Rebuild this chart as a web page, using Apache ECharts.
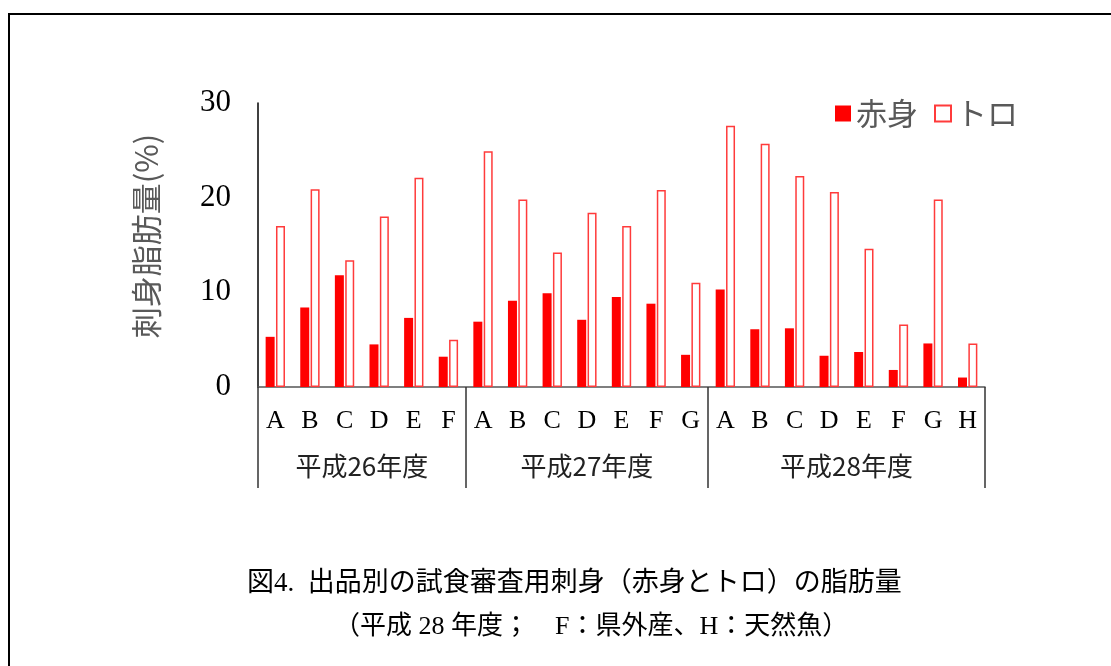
<!DOCTYPE html>
<html>
<head>
<meta charset="utf-8">
<script src="https://cdn.jsdelivr.net/npm/echarts@6/dist/echarts.min.js"></script>
<style>
  html, body { margin: 0; padding: 0; background: #fff; }
  #chart { width: 1111px; height: 666px; }
</style>
</head>
<body>
<div id="chart"></div>
<script>
// Fiscal-year groups and the entries (exhibitors) within each
const groups = ['平成26年度', '平成27年度', '平成28年度'];
const groupLetters = [
  ['A', 'B', 'C', 'D', 'E', 'F'],
  ['A', 'B', 'C', 'D', 'E', 'F', 'G'],
  ['A', 'B', 'C', 'D', 'E', 'F', 'G', 'H']
];
// Fat content (%) of sashimi: lean (赤身) and fatty (トロ)
const akami = [5.3, 8.4, 11.8, 4.5, 7.3, 3.2,
               6.9, 9.1, 9.9, 7.1, 9.5, 8.8, 3.4,
               10.3, 6.1, 6.2, 3.3, 3.7, 1.8, 4.6, 1.0];
const toro  = [17.0, 20.9, 13.4, 18.0, 22.1, 5.0,
               24.9, 19.8, 14.2, 18.4, 17.0, 20.8, 11.0,
               27.6, 25.7, 22.3, 20.6, 14.6, 6.6, 19.8, 4.6];
const yTicks = [0, 10, 20, 30];

// Build unique category keys ("g-letter") and group boundaries / centres
const categories = [];
const boundaries = [0];
const centres = [];
groupLetters.forEach((letters, gi) => {
  const start = boundaries[boundaries.length - 1];
  letters.forEach(l => categories.push(gi + '-' + l));
  boundaries.push(start + letters.length);
  centres.push(start + letters.length / 2);
});

const serif = '"Liberation Serif", "Noto Sans CJK JP", serif';
const gothic = '"Noto Sans CJK JP", sans-serif';

const chart = echarts.init(document.getElementById('chart'), null, { renderer: 'canvas' });
chart.setOption({
  animation: false,
  backgroundColor: '#fff',
  graphic: [{
    type: 'rect',
    shape: { x: 9, y: 14, width: 1200, height: 700 },
    style: { fill: null, stroke: '#000', lineWidth: 2 },
    silent: true
  }],
  title: [{
    text: '図4.  出品別の試食審査用刺身（赤身とトロ）の脂肪量',
    left: 242, top: 565,
    textStyle: { fontFamily: serif, fontSize: 27, fontWeight: 'normal', color: '#000' }
  }, {
    text: '（平成 28 年度；　F：県外産、H：天然魚）',
    left: 329, top: 609,
    textStyle: { fontFamily: serif, fontSize: 26, fontWeight: 'normal', color: '#000' }
  }],
  legend: {
    right: 88, top: 93,
    itemWidth: 16, itemHeight: 16, itemGap: 16,
    icon: 'rect',
    textStyle: { fontFamily: gothic, fontSize: 31, color: '#595959', padding: [0, 0, 0, 0] },
    data: ['赤身', 'トロ']
  },
  grid: { left: 258, right: 126, top: 103, bottom: 279, containLabel: false },
  xAxis: [{
    type: 'category',
    data: categories,
    position: 'bottom',
    axisLine: { lineStyle: { color: '#555', width: 1.5 } },
    axisTick: { show: false },
    axisLabel: {
      formatter: v => v.split('-')[1],
      fontFamily: serif, fontSize: 26, color: '#000', margin: 21,
      interval: 0
    }
  }, {
    type: 'value',
    min: 0, max: categories.length,
    position: 'bottom',
    axisLine: { show: false },
    splitLine: { show: false },
    axisTick: {
      show: true, inside: false, length: 101,
      customValues: boundaries,
      lineStyle: { color: '#333', width: 1.5 }
    },
    axisLabel: {
      customValues: centres,
      formatter: v => groups[centres.indexOf(v)] || '',
      fontFamily: gothic, fontSize: 26, color: '#222', margin: 66
    }
  }],
  yAxis: {
    type: 'value',
    min: yTicks[0], max: yTicks[yTicks.length - 1], interval: 10,
    name: '刺身脂肪量(%)',
    nameLocation: 'middle',
    nameRotate: 90,
    nameGap: 96,
    nameTextStyle: { fontFamily: gothic, fontSize: 31, color: '#595959', padding: [0, 0, 0, 18] },
    axisLine: { show: true, lineStyle: { color: '#000', width: 1.5 } },
    axisTick: { show: false },
    splitLine: { show: false },
    axisLabel: { fontFamily: serif, fontSize: 31, color: '#000', margin: 27 }
  },
  series: [{
    name: '赤身',
    type: 'bar',
    data: akami,
    barWidth: 9,
    barGap: '15%',
    itemStyle: { color: '#ff0000' }
  }, {
    name: 'トロ',
    type: 'bar',
    data: toro,
    barWidth: 9,
    itemStyle: { color: '#ffffff', borderColor: '#ff3b3b', borderWidth: 1.5 }
  }]
});
</script>
</body>
</html>
